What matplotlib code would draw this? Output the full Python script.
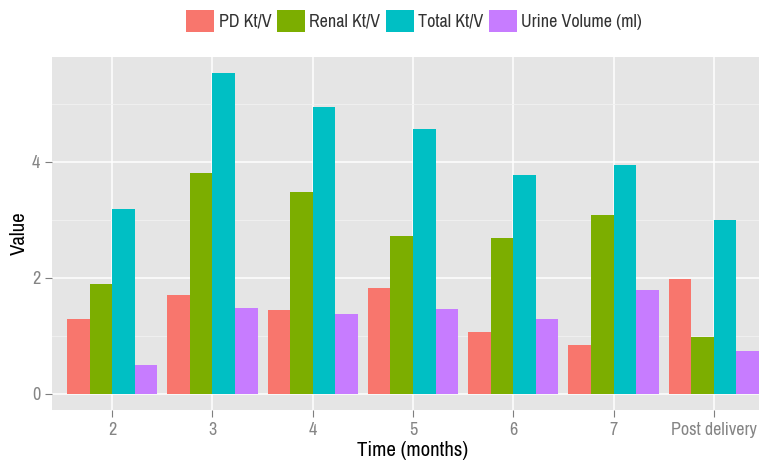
import matplotlib
matplotlib.use("Agg")
import matplotlib.pyplot as plt
import numpy as np
from matplotlib import font_manager

categories = ["2", "3", "4", "5", "6", "7", "Post delivery"]
series_names = ["PD Kt/V", "Renal Kt/V", "Total Kt/V", "Urine Volume (ml)"]
pd_ktv = [1.29, 1.71, 1.45, 1.82, 1.07, 0.84, 1.98]
renal_ktv = [1.90, 3.80, 3.48, 2.73, 2.69, 3.08, 0.98]
total_ktv = [3.19, 5.53, 4.94, 4.56, 3.77, 3.94, 3.00]
urine_vol = [0.50, 1.48, 1.38, 1.46, 1.29, 1.79, 0.74]
colors = ["#F8766D", "#7CAE00", "#00BFC4", "#C77CFF"]

names = {f.name for f in font_manager.fontManager.ttflist}
narrow_fam = (['Archivo Narrow'] if 'Archivo Narrow' in names else []) + ['Liberation Sans', 'DejaVu Sans']
plt.rcParams['font.family'] = ['Liberation Sans', 'DejaVu Sans']

fig = plt.figure(figsize=(7.59, 4.63), dpi=100)
W, H = 759, 463
left, right, top, bottom = 52, 774, 57, 410
ax = fig.add_axes([left / W, 1 - bottom / H, (right - left) / W, (bottom - top) / H])
ax.set_facecolor("#E5E5E5")

series = [pd_ktv, renal_ktv, total_ktv, urine_vol]
x = np.arange(len(categories))
bw = 0.225
handles = []
for i, (vals, c, name) in enumerate(zip(series, colors, series_names)):
    h = ax.bar(x + (i - 1.5) * bw, vals, width=bw, color=c, label=name, zorder=3, linewidth=0)
    handles.append(h)

ymax = max(max(s) for s in series)
ax.set_ylim(-0.05 * ymax, ymax * 1.05)
ax.set_xlim(-0.6, len(categories) - 0.4)
ax.set_xticks(x)
ax.set_xticklabels(categories)
ax.set_yticks([0, 2, 4])
ax.set_yticks([1, 3, 5], minor=True)
ax.grid(True, which="major", color="white", linewidth=1.1, zorder=0)
ax.grid(True, which="minor", axis="y", color="#F2F2F2", linewidth=0.6, zorder=0)
for s in ax.spines.values():
    s.set_visible(False)
ax.tick_params(axis="both", which="major", colors="#7F7F7F", labelcolor="#858585",
               length=5, width=0.8, direction="out", pad=3.5)
ax.tick_params(axis="y", which="minor", length=0)
for lab in ax.get_xticklabels() + ax.get_yticklabels():
    lab.set_family(narrow_fam)
    lab.set_fontsize(13)
ax.set_axisbelow(True)
ax.set_xlabel("Time (months)", fontsize=15, color="black", labelpad=2, family=narrow_fam)
ax.set_ylabel("Value", fontsize=15, color="black", labelpad=2, family=narrow_fam)

leg = fig.legend(handles=handles, labels=series_names, loc="center", ncol=4,
                 bbox_to_anchor=(414 / W, 1 - 21 / H), frameon=False,
                 handlelength=1.55, handleheight=1.55,
                 handletextpad=0.25, columnspacing=0.3, borderaxespad=0,
                 prop={'family': narrow_fam, 'size': 13})
for t in leg.get_texts():
    t.set_color("#333333")

fig.savefig("out.png", dpi=100)
